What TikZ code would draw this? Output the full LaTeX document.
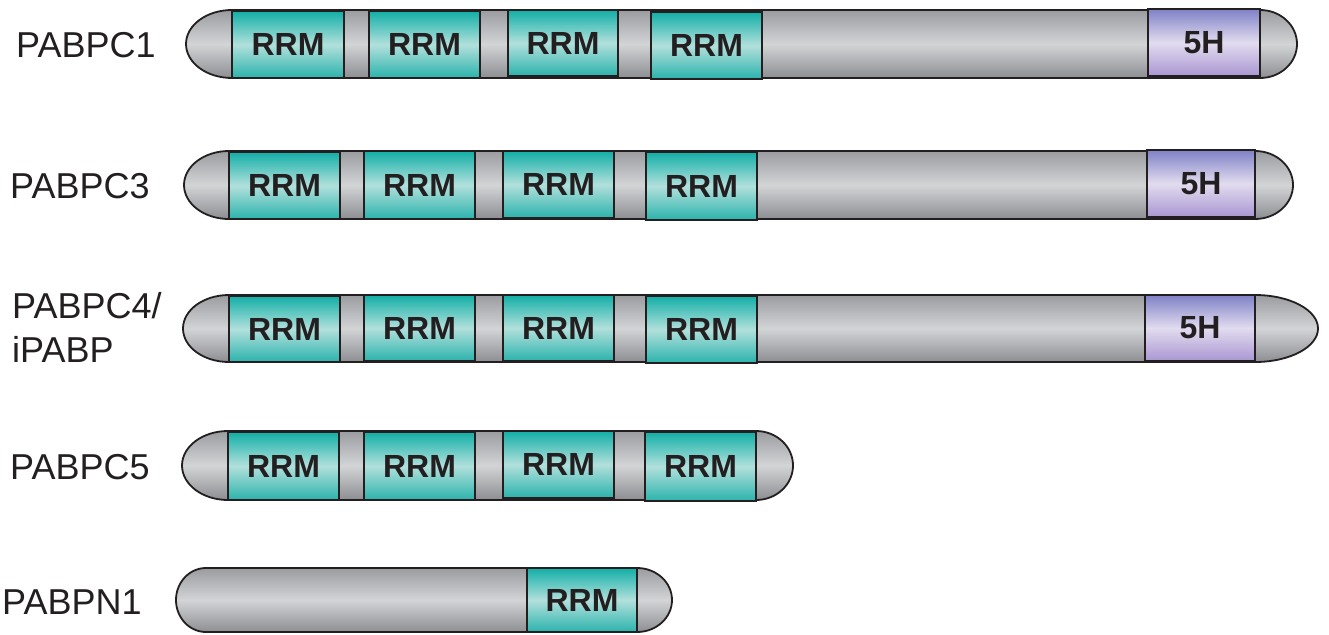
\documentclass[tikz,border=0pt]{standalone}
\usepackage{fontspec}
\setmainfont{Liberation Sans}
\definecolor{edge}{HTML}{231F20}
\definecolor{gT}{HTML}{9A9CA0}
\definecolor{gM}{HTML}{D3D4D6}
\definecolor{gB}{HTML}{8C8E92}
\definecolor{tT}{HTML}{12AFA7}
\definecolor{tM}{HTML}{B2E0DC}
\definecolor{tB}{HTML}{2BB3AC}
\definecolor{pT}{HTML}{7E81C6}
\definecolor{pM}{HTML}{E2DCEF}
\definecolor{pB}{HTML}{A996D2}
\tikzset{
  barline/.style={draw=edge, line width=1.8pt, top color=gT, bottom color=gB, middle color=gM},
  dom/.style={draw=edge, line width=1.8pt, inner sep=0pt, text=edge,
    font=\bfseries\fontsize{32}{32}\selectfont},
  rrm/.style={dom, top color=tT, bottom color=tB, middle color=tM},
  fiveh/.style={dom, top color=pT, bottom color=pB, middle color=pM},
  lbl/.style={anchor=base west, inner sep=0pt, text=edge, font=\fontsize{36}{36}\selectfont}
}
% \pbar{x0}{x1}{top}{bottom}{rxL}{rxR}
\newcommand\pbar[6]{%
  \pgfmathsetmacro\ryy{(#4-#3)/2}%
  \path[barline] (#1+#5,#3) -- (#2-#6,#3) arc(-90:90:#6 and \ryy) -- (#1+#5,#4) arc(90:270:#5 and \ryy) -- cycle;}
% \dbox{name}{style}{x0}{x1}{top}{bottom}{text}
\newcommand\dbox[7]{%
  \node[#2, minimum width={(#4-#3)*1pt}, minimum height={(#6-#5)*1pt}] (#1) at ({(#3+#4)/2},{(#5+#6)/2}) {#7};}
\begin{document}
\begin{tikzpicture}[x=1pt,y=-1pt]
\useasboundingbox[fill=white] (0,0) rectangle (1329,634);
% labels
\node[lbl] (l1) at (16,58) {PABPC1};
\node[lbl] (l3) at (10,198) {PABPC3};
\node[lbl] (l4a) at (12,318) {PABPC4/};
\node[lbl] (l4b) at (12,362) {iPABP};
\node[lbl] (l5) at (10,479) {PABPC5};
\node[lbl] (ln) at (2,614) {PABPN1};
% PABPC1
\pbar{186}{1297}{10}{78}{46}{37}
\dbox{a1}{rrm}{232}{344}{11}{78}{RRM}
\dbox{a2}{rrm}{369}{480}{11}{78}{RRM}
\dbox{a3}{rrm}{508}{618}{10}{76}{RRM}
\dbox{a4}{rrm}{651}{762}{12}{79}{RRM}
\dbox{a5}{fiveh}{1148}{1260}{9}{76}{5H}
% PABPC3
\pbar{184}{1293}{151}{219}{45}{38}
\dbox{b1}{rrm}{229}{340}{152}{219}{RRM}
\dbox{b2}{rrm}{364}{475}{151}{219}{RRM}
\dbox{b3}{rrm}{503}{614}{151}{218}{RRM}
\dbox{b4}{rrm}{646}{757}{152}{220}{RRM}
\dbox{b5}{fiveh}{1147}{1255}{150}{217}{5H}
% PABPC4/iPABP
\pbar{183}{1318}{295}{362}{46}{63}
\dbox{c1}{rrm}{229}{340}{296}{362}{RRM}
\dbox{c2}{rrm}{364}{475}{295}{361}{RRM}
\dbox{c3}{rrm}{503}{614}{295}{361}{RRM}
\dbox{c4}{rrm}{646}{757}{296}{363}{RRM}
\dbox{c5}{fiveh}{1145}{1255}{295}{361}{5H}
% PABPC5
\pbar{182}{793}{431}{500}{46}{37}
\dbox{d1}{rrm}{228}{339}{432}{500}{RRM}
\dbox{d2}{rrm}{364}{475}{432}{500}{RRM}
\dbox{d3}{rrm}{503}{614}{431}{498}{RRM}
\dbox{d4}{rrm}{645}{756}{432}{501}{RRM}
% PABPN1
\pbar{176}{672}{568}{632}{30}{35}
\dbox{e1}{rrm}{527}{637}{568}{632}{RRM}
\end{tikzpicture}
\end{document}
